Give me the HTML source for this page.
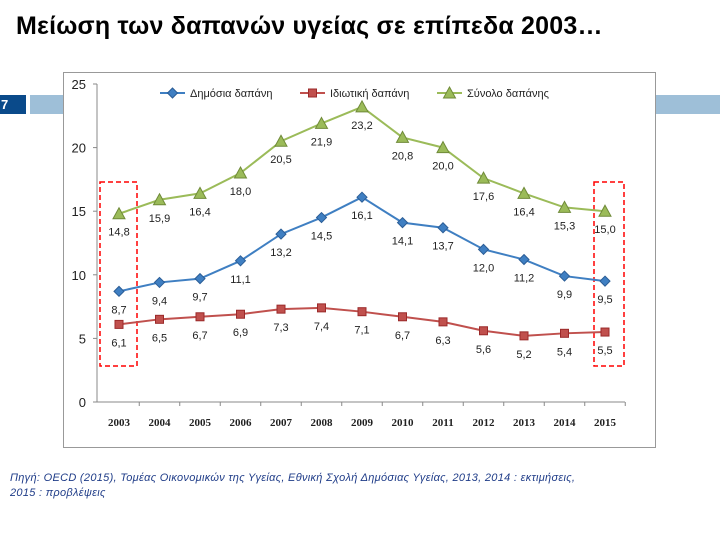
<!DOCTYPE html>
<html><head><meta charset="utf-8"><style>
body{margin:0;width:720px;height:544px;background:#fff;position:relative;overflow:hidden;font-family:"Liberation Sans",sans-serif}
.title{position:absolute;left:16px;top:12px;font-size:25px;font-weight:bold;color:#000;letter-spacing:0.2px}
.num{position:absolute;left:0;top:95px;width:25px;height:19px;background:#0a4a8a;color:#fff;font-weight:bold;font-size:13px;line-height:19px;padding-left:1px}
.bar{position:absolute;left:30px;top:95px;width:690px;height:19px;background:#9ebfd8}
.src{position:absolute;left:10px;top:471px;font-size:11px;font-style:italic;color:#1f3c88;line-height:15px;letter-spacing:0.3px}
svg{position:absolute;left:0;top:0}
</style></head><body>
<div class="title">Μείωση των δαπανών υγείας σε επίπεδα 2003…</div>
<div class="num">7</div>
<div class="bar"></div>
<svg id="chart" width="720" height="544"></svg>
<div class="src">Πηγή: OECD (2015), Τομέας Οικονομικών της Υγείας, Εθνική Σχολή Δημόσιας Υγείας, 2013, 2014 : εκτιμήσεις,<br>2015 : προβλέψεις</div>
<script>
const years=["2003","2004","2005","2006","2007","2008","2009","2010","2011","2012","2013","2014","2015"];
const publicVals=[8.7,9.4,9.7,11.1,13.2,14.5,16.1,14.1,13.7,12.0,11.2,9.9,9.5];
const privateVals=[6.1,6.5,6.7,6.9,7.3,7.4,7.1,6.7,6.3,5.6,5.2,5.4,5.5];
const totalVals=[14.8,15.9,16.4,18.0,20.5,21.9,23.2,20.8,20.0,17.6,16.4,15.3,15.0];
const yTicks=[0,5,10,15,20,25];
const NS="http://www.w3.org/2000/svg";
const svg=document.getElementById('chart');
const x=i=>119+i*40.5;
const y=v=>402-v*12.72;
function mk(t,a,p){const e=document.createElementNS(NS,t);for(const k in a)e.setAttribute(k,a[k]);(p||svg).appendChild(e);return e;}
const box=mk('rect',{x:63.5,y:72.5,width:592,height:375,fill:'#fff',stroke:'#999','stroke-width':1});


mk('line',{x1:97,y1:y(25),x2:97,y2:402,stroke:'#888'});
mk('line',{x1:97,y1:402,x2:x(12)+20,y2:402,stroke:'#888'});
yTicks.forEach(v=>{
 mk('line',{x1:93,y1:y(v),x2:97,y2:y(v),stroke:'#888'});
 const t=mk('text',{x:86,y:y(v)+5,'text-anchor':'end','font-size':13,fill:'#222'});t.textContent=v;
 
 
});
years.forEach((yr,i)=>{
 mk('line',{x1:x(i)+20.25,y1:402,x2:x(i)+20.25,y2:406,stroke:'#888'});
 const t=mk('text',{x:x(i),y:426,'text-anchor':'middle','font-size':11,'font-weight':'bold',fill:'#222','font-family':'Liberation Serif'});t.textContent=yr;
 
 
});
[[100,137],[594,624]].forEach(([a,b])=>{
 const r=mk('rect',{x:a,y:182,width:b-a,height:184,fill:'none',stroke:'#f00','stroke-width':1.5,'stroke-dasharray':'5,3'});
 
 
});
function marker(type,cx,cy,col,g){
 if(type==='d')return mk('polygon',{points:`${cx},${cy-5} ${cx+5},${cy} ${cx},${cy+5} ${cx-5},${cy}`,fill:col,stroke:'#2b5d96'},g);
 if(type==='s')return mk('rect',{x:cx-4,y:cy-4,width:8,height:8,fill:col,stroke:'#9b2a2a'},g);
 return mk('polygon',{points:`${cx},${cy-6} ${cx+6},${cy+5} ${cx-6},${cy+5}`,fill:col,stroke:'#6f8a38'},g);
}
const series=[[publicVals,'#3f7fc2','d','public-series'],[privateVals,'#c0504d','s','private-series'],[totalVals,'#9bbb59','t','total-series']];
series.forEach(([vals,col,m,name])=>{
 const g=mk('g',{});
 
 
 mk('polyline',{points:vals.map((v,i)=>x(i)+','+y(v)).join(' '),fill:'none',stroke:col,'stroke-width':2},g);
 vals.forEach((v,i)=>{
  const p=marker(m,x(i),y(v),col,g);
  
  
  const t=mk('text',{x:x(i),y:y(v)+22,'text-anchor':'middle','font-size':11,fill:'#222'},g);
  t.textContent=v.toFixed(1).replace('.',',');
  
  
 });
});
const legend=[['Δημόσια δαπάνη','#3f7fc2','d',160],['Ιδιωτική δαπάνη','#c0504d','s',300],['Σύνολο δαπάνης','#9bbb59','t',437]];
legend.forEach(([lab,col,m,lx])=>{
 const g=mk('g',{});
 
 
 mk('line',{x1:lx,y1:93,x2:lx+25,y2:93,stroke:col,'stroke-width':2},g);
 marker(m,lx+12.5,93,col,g);
 const t=mk('text',{x:lx+30,y:97,'font-size':11,fill:'#222'},g);t.textContent=lab;
});
</script>
</body></html>
